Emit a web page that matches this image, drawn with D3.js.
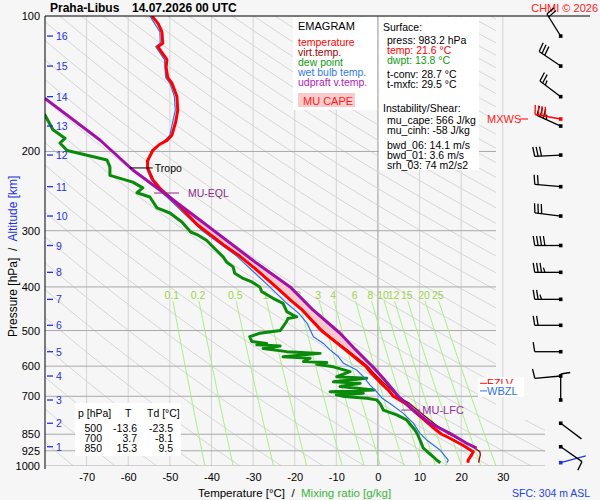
<!DOCTYPE html>
<html>
<head>
<meta charset="utf-8">
<script src="https://cdn.jsdelivr.net/npm/d3@7"></script>
<style>
  body { margin: 0; background: #f6f6f6; }
  svg { display: block; font-family: "Liberation Sans", Arial, sans-serif; }
</style>
</head>
<body>
<svg id="chart" width="600" height="500"></svg>
<script>
// axis ticks
const pTicks = [100, 200, 300, 400, 500, 600, 700, 850, 925, 1000]
const tTicks = [-70, -60, -50, -40, -30, -20, -10, 0, 10, 20, 30]
const altKm = [1, 2, 3, 4, 5, 6, 7, 8, 9, 10, 11, 12, 13, 14, 15, 16]
const altP = [906.1, 803.5, 713.4, 631.0, 557.2, 486.8, 426.2, 371.2, 323.6, 278.3, 239.5, 203.7, 175.6, 151.1, 129.2, 110.8]
const mixRatios = [0.1, 0.2, 0.5, 1, 2, 3, 4, 6, 8, 10, 12, 15, 20, 25]

// temperature + virtual temperature (hPa, °C)
const tempP = [983.2, 970, 945, 930, 898, 861, 850, 818, 764, 726, 700, 678, 650, 622, 600, 590, 552, 530, 500, 482, 450, 428, 400, 367, 340, 323, 300, 291, 265, 250, 242, 231, 218, 210, 199, 193, 189, 184, 172, 162, 151, 141, 137, 130, 125, 117, 115, 108.5, 104, 100]
const tempC = [21.6, 21.7, 22.5, 22.9, 20.3, 16.6, 15.3, 13.0, 9.3, 6.6, 3.7, 2.5, 0.4, -1.6, -3.0, -4.0, -7.8, -10.2, -13.6, -15.2, -18.2, -21.0, -24.5, -29.1, -33.5, -37.0, -41.5, -43.4, -47.6, -50.6, -52.3, -54.1, -55.3, -55.4, -54.1, -52.5, -50.7, -49.5, -48.6, -48.1, -48.3, -49.5, -50.5, -50.9, -50.7, -52.9, -51.7, -51.9, -52.8, -54.3]
const virtC = [24.2, 24.3, 24.6, 24.5, 22.2, 18.4, 17.1, 14.5, 10.5, 7.6, 4.6, 3.3, 1.1, -1.0, -2.5, -3.5, -7.4, -9.9, -13.4, -15.0, -18.1, -20.9, -24.4, -29.0, -33.4, -36.9, -41.4, -43.3, -47.5, -50.5, -52.3, -54.1, -55.3, -55.4, -54.1, -52.5, -50.7, -49.5, -48.6, -48.1, -48.3, -49.5, -50.5, -50.9, -50.7, -52.9, -51.7, -51.9, -52.8, -54.3]

// dew point
const dewP = [983.2, 970, 954, 913, 875, 850, 832, 790, 770, 751, 726, 713, 707, 701, 695, 689, 684, 678, 666, 655, 650, 638, 633, 617, 602, 594, 589, 586, 576, 572, 562, 557, 548, 541, 538, 534, 529, 516, 507, 500, 490, 478, 470, 466, 462, 454, 435, 424, 410, 400, 390, 383, 373, 361, 352, 343, 326, 315, 307, 302, 287, 274, 267, 252.5, 247, 241, 234, 226, 216.5, 209, 204, 199, 191.5, 187, 179, 166, 160]
const dewC = [15.0, 14.1, 13.3, 10.9, 10.1, 9.5, 8.9, 6.9, 4.5, 1.3, 0.5, -0.3, -2.7, -8.1, -10.0, -3.5, -11.5, -0.9, -9.1, -4.3, -10.7, -2.7, -9.9, -6.7, -10.7, -14.7, -12.3, -17.9, -16.3, -22.8, -13.9, -21.9, -27.6, -23.5, -29.1, -26.7, -30.3, -30.8, -28.4, -23.5, -22.8, -22.0, -21.6, -19.5, -20.4, -21.9, -22.8, -25.2, -27.9, -28.4, -30.3, -32.4, -34.4, -34.8, -36.4, -37.2, -39.6, -41.2, -43.2, -45.0, -47.1, -50.0, -53.1, -54.8, -57.9, -56.5, -58.9, -64.4, -64.4, -65.1, -69.9, -74.7, -76.4, -75.2, -78.1, -80.0, -82.0]

// wet bulb temperature
const wetP = [983.2, 970, 921, 875, 846, 803, 764, 726, 707, 684, 661, 633, 612, 591, 572, 552, 534, 516, 482, 458, 435, 400, 373, 340, 300, 265, 250, 231, 218, 199, 189, 184, 162, 151, 141, 137, 125, 117, 115, 108.5, 100]
const wetC = [16.6, 16.9, 14.9, 11.7, 10.1, 8.5, 6.1, 2.9, 1.0, -0.3, -1.9, -3.5, -5.1, -8.3, -9.5, -11.5, -13.1, -15.5, -17.0, -19.0, -21.9, -26.0, -29.5, -34.2, -42.2, -48.3, -51.2, -54.5, -55.6, -54.4, -51.2, -50.0, -48.7, -48.9, -50.0, -51.0, -51.3, -53.4, -52.3, -52.4, -54.8]

// MU parcel (updraft virtual temperature)
const parcelP = [913, 890, 846, 803, 751, 700, 650, 605, 550, 507, 450, 400, 354.5, 284, 247.4, 243.6, 219.9, 188.6, 152.4]
const parcelC = [23.7, 21.3, 17.3, 12.5, 8.5, 4.9, 2.0, -1.0, -5.5, -9.1, -15.6, -21.1, -29.1, -42.8, -51.4, -52.4, -58.9, -66.8, -80.0]
const lfcP = 751, elP = 247.4, tropoP = 217.6, fzlvP = 655, wbzlP = 681

// winds: surface then every km
const windP = [983.2].concat(altP)
const windDir = [75, 125, 127, 360, 265, 270, 270, 270, 270, 270, 277, 275, 267, 294, 307, 304, 328]
const windSpd = [2, 7, 2, 5, 5, 5, 10, 13, 18, 20, 15, 10, 15, 18, 13, 15, 10]
const mxwsP = 169.4, mxwsDir = 280, mxwsSpd = 20

// station table
const tableP = [500, 700, 850]
const tableT = ['-13.6', '3.7', '15.3']
const tableTd = ['-23.5', '-8.1', '9.5']

const svg = d3.select('#chart')
const xs = d3.scaleLinear().domain([-80, 40]).range([45, 544.4])
const ys = d3.scaleLog().domain([100, 1000]).range([16, 466])
const FONT = 10.5

const defs = svg.append('defs')
defs.append('clipPath').attr('id', 'plotClip')
  .append('rect').attr('x', 45).attr('y', 16).attr('width', 500).attr('height', 450)
defs.append('clipPath').attr('id', 'gridClip')
  .append('path').attr('d', 'M45,16H496V420H545V466H45Z')

const zip = (ps, ts) => ps.map((p, i) => [p, ts[i]])
const line = d3.line().x(d => xs(d[1])).y(d => ys(d[0]))

// isotherms
svg.append('g').selectAll('line').data(tTicks).join('line')
  .attr('x1', d => xs(d)).attr('x2', d => xs(d))
  .attr('y1', 16).attr('y2', 466)
  .attr('stroke', d => d === 0 ? '#9a9a9a' : '#d4d4d4')
  .attr('stroke-width', 1)

// dry adiabats
const grid = svg.append('g').attr('clip-path', 'url(#gridClip)')
const adP = d3.range(100, 1001, 10)
grid.selectAll('path.ad').data(d3.range(200, 640, 10)).join('path')
  .attr('class', 'ad')
  .attr('d', th => line(adP.map(p => [p, th * Math.pow(p / 1000, 0.286) - 273.15])))
  .attr('fill', 'none').attr('stroke', '#d2d2d2').attr('stroke-width', 0.9)

// isobars
grid.selectAll('line.iso').data(pTicks.filter(p => p > 100)).join('line')
  .attr('class', 'iso')
  .attr('x1', 45).attr('x2', d => d >= 850 ? 545 : 496)
  .attr('y1', d => ys(d)).attr('y2', d => ys(d))
  .attr('stroke', '#a9a9a9')

// mixing ratio lines
const mixT = (w, p) => {
  const e = (w / 1000) * p / (0.622 + w / 1000)
  const l = Math.log(e / 6.112)
  return 243.5 * l / (17.67 - l)
}
const mixP = d3.range(430, 1001, 10)
const mixG = svg.append('g').attr('clip-path', 'url(#plotClip)')
mixG.selectAll('path').data(mixRatios).join('path')
  .attr('d', w => line(mixP.map(p => [p, mixT(w, p)])))
  .attr('fill', 'none').attr('stroke', '#a8ef84').attr('stroke-width', 1)
svg.append('g').selectAll('text').data(mixRatios).join('text')
  .attr('x', w => xs(mixT(w, 430)) - 1)
  .attr('y', ys(430) - 2)
  .attr('text-anchor', 'middle')
  .attr('font-size', FONT)
  .attr('fill', '#9fd34a')
  .text(w => w)

// boxes
const box = (x, y, w, h, fill) => svg.append('rect').attr('x', x).attr('y', y)
  .attr('width', w).attr('height', h).attr('fill', fill || '#ffffff')
box(293, 17, 84, 93)
box(379, 17, 100, 153)
box(75, 403, 106, 53)

// CAPE area between parcel and environment
const capeUp = zip(parcelP, parcelC).filter(d => d[0] <= lfcP && d[0] >= elP)
const capeDown = zip(tempP, virtC).filter(d => d[0] < lfcP && d[0] > elP).reverse()
svg.append('path')
  .attr('d', line(capeUp.concat(capeDown)) + 'Z')
  .attr('fill', '#f7c8cf').attr('stroke', 'none')

// profiles
const prof = svg.append('g').attr('clip-path', 'url(#plotClip)')
const draw = (data, color, width) => prof.append('path').datum(data)
  .attr('d', line).attr('fill', 'none').attr('stroke', color)
  .attr('stroke-width', width).attr('stroke-linejoin', 'round')
draw(zip(dewP, dewC), '#0a8a0a', 3)
draw(zip(wetP, wetC), '#2f6fe8', 1.2)
draw(zip(tempP, virtC), '#8b0000', 1.3)
draw(zip(tempP, tempC), '#ff0000', 3)
draw(zip(parcelP, parcelC), '#a010a8', 3)

// annotations
const tropoT = tempC[tempP.indexOf(218)]
svg.append('line').attr('x1', xs(tropoT) - 18).attr('x2', xs(tropoT) + 5)
  .attr('y1', ys(tropoP)).attr('y2', ys(tropoP)).attr('stroke', '#000')
svg.append('text').attr('x', xs(tropoT) + 7).attr('y', ys(tropoP) + 4)
  .attr('font-size', FONT).text('Tropo')

const elT = parcelC[parcelP.indexOf(elP)]
svg.append('line').attr('x1', xs(elT) - 10).attr('x2', xs(elT) + 15)
  .attr('y1', ys(elP)).attr('y2', ys(elP)).attr('stroke', '#8a2a8a')
svg.append('text').attr('x', xs(elT) + 24).attr('y', ys(elP) + 4)
  .attr('font-size', FONT).attr('fill', '#8a2a8a').text('MU-EQL')

const lfcT = parcelC[parcelP.indexOf(lfcP)]
svg.append('line').attr('x1', xs(lfcT) - 12).attr('x2', xs(lfcT) + 7)
  .attr('y1', ys(lfcP)).attr('y2', ys(lfcP)).attr('stroke', '#9a2aa0')
svg.append('text').attr('x', xs(lfcT) + 9).attr('y', ys(lfcP) + 4)
  .attr('font-size', FONT + 0.5).attr('fill', '#9a2aa0').text('MU-LFC')

box(478, ys(fzlvP) - 6, 46, 12)
svg.append('line').attr('x1', 480).attr('x2', 487).attr('y1', ys(fzlvP)).attr('y2', ys(fzlvP)).attr('stroke', '#ff0000')
svg.append('text').attr('x', 487).attr('y', ys(fzlvP) + 4).attr('font-size', FONT + 0.5).attr('fill', '#ff0000').text('FZLV')
box(478, ys(wbzlP) - 7, 46, 13)
svg.append('line').attr('x1', 480).attr('x2', 487).attr('y1', ys(wbzlP)).attr('y2', ys(wbzlP)).attr('stroke', '#2f6fe8')
svg.append('text').attr('x', 487).attr('y', ys(wbzlP) + 4).attr('font-size', FONT + 0.5).attr('fill', '#2f6fe8').text('WBZL')

// axes
const yAxis = svg.append('g').attr('transform', 'translate(45,0)')
  .call(d3.axisLeft(ys).tickValues(pTicks).tickFormat(d => d).tickSize(0).tickPadding(5))
yAxis.select('.domain').remove()
yAxis.selectAll('text').attr('font-size', FONT + 0.5).attr('font-family', null).attr('fill', '#000')

const xAxis = svg.append('g').attr('transform', 'translate(0,466)')
  .call(d3.axisBottom(xs).tickValues(tTicks).tickFormat(d => String(d)).tickSize(0).tickPadding(7))
xAxis.select('.domain').remove()
xAxis.selectAll('text').attr('font-size', FONT + 0.5).attr('font-family', null).attr('fill', '#000')

svg.append('line').attr('x1', 45).attr('x2', 45).attr('y1', 16).attr('y2', 469).attr('stroke', '#000')
svg.append('line').attr('x1', 45).attr('x2', 590).attr('y1', 16).attr('y2', 16).attr('stroke', '#000')

// altitude ticks
const alt = svg.append('g')
alt.selectAll('line').data(altKm).join('line')
  .attr('x1', 47).attr('x2', 53)
  .attr('y1', (d, i) => ys(altP[i])).attr('y2', (d, i) => ys(altP[i]))
  .attr('stroke', '#2233dd').attr('stroke-width', 1.3)
alt.selectAll('text').data(altKm).join('text')
  .attr('x', 56).attr('y', (d, i) => ys(altP[i]) + 4)
  .attr('font-size', FONT).attr('fill', '#2233dd').text(d => d)

// axis titles
const yTitle = svg.append('text').attr('transform', 'translate(17,337) rotate(-90)')
  .attr('font-size', FONT + 1.5).attr('xml:space', 'preserve')
yTitle.append('tspan').attr('fill', '#000').text('Pressure [hPa]  /  ')
yTitle.append('tspan').attr('fill', '#2233dd').text('Altitude [km]')

const xTitle = svg.append('text').attr('x', 198).attr('y', 497).attr('font-size', FONT + 1).attr('xml:space', 'preserve')
xTitle.append('tspan').attr('fill', '#000').text('Temperature [°C]  /  ')
xTitle.append('tspan').attr('fill', '#3cb43c').text('Mixing ratio [g/kg]')

svg.append('text').attr('x', 512).attr('y', 497).attr('font-size', FONT).attr('fill', '#2244dd').text('SFC: 304 m ASL')
svg.append('text').attr('x', 598).attr('y', 12).attr('text-anchor', 'end').attr('font-size', FONT + 0.5).attr('fill', '#ff2020').text('CHMI © 2026')
svg.append('text').attr('x', 50).attr('y', 12).attr('font-size', 12).attr('font-weight', 'bold').text('Praha-Libus')
svg.append('text').attr('x', 132).attr('y', 12).attr('font-size', 12).attr('font-weight', 'bold').text('14.07.2026 00 UTC')

// legend
const leg = [
  ['temperature', '#ff0000'],
  ['virt.temp.', '#a00000'],
  ['dew point', '#109a10'],
  ['wet bulb temp.', '#3377ee'],
  ['udpraft v.temp.', '#b020c0']
]
svg.append('text').attr('x', 298).attr('y', 30).attr('font-size', FONT + 0.5).text('EMAGRAM')
svg.append('g').selectAll('text').data(leg).join('text')
  .attr('x', 298).attr('y', (d, i) => 46 + i * 10)
  .attr('font-size', FONT).attr('fill', d => d[1]).text(d => d[0])
box(298, 93, 57, 14, '#f8cccc')
svg.append('text').attr('x', 303).attr('y', 105).attr('font-size', FONT + 0.5).attr('fill', '#ff2020').text('MU CAPE')

// info box
const info = [
  ['Surface:', 383, 31, '#000'],
  ['press: 983.2 hPa', 387, 44, '#000'],
  ['temp: 21.6 °C', 387, 54, '#ff0000'],
  ['dwpt: 13.8 °C', 387, 64, '#109a10'],
  ['t-conv: 28.7 °C', 387, 78, '#000'],
  ['t-mxfc: 29.5 °C', 387, 88, '#000'],
  ['Instability/Shear:', 383, 112, '#000'],
  ['mu_cape: 566 J/kg', 387, 124, '#000'],
  ['mu_cinh: -58 J/kg', 387, 134, '#000'],
  ['bwd_06: 14.1 m/s', 387, 149, '#000'],
  ['bwd_01: 3.6 m/s', 387, 159, '#000'],
  ['srh_03: 74 m2/s2', 387, 169, '#000']
]
svg.append('g').selectAll('text').data(info).join('text')
  .attr('x', d => d[1]).attr('y', d => d[2]).attr('font-size', FONT)
  .attr('fill', d => d[3]).text(d => d[0])

// table
const tbl = svg.append('g').attr('font-size', FONT)
tbl.append('text').attr('x', 78).attr('y', 417).text('p [hPa]')
tbl.append('text').attr('x', 125).attr('y', 417).text('T')
tbl.append('text').attr('x', 147).attr('y', 417).text('Td [°C]')
tableP.forEach((p, i) => {
  const yy = 432 + i * 10
  tbl.append('text').attr('x', 102).attr('y', yy).attr('text-anchor', 'end').text(p)
  tbl.append('text').attr('x', 137).attr('y', yy).attr('text-anchor', 'end').text(tableT[i])
  tbl.append('text').attr('x', 173).attr('y', yy).attr('text-anchor', 'end').text(tableTd[i])
})

// wind barbs
const barbs = svg.append('g')
function drawBarb(px, py, dir, spd, color) {
  const a = dir * Math.PI / 180
  const ux = Math.sin(a), uy = -Math.cos(a)
  const nx = -uy, ny = ux
  const L = 26, B = 9.5, gap = 3.4
  const tx = px + ux * L, ty = py + uy * L
  barbs.append('line').attr('x1', px).attr('y1', py).attr('x2', tx).attr('y2', ty)
    .attr('stroke', color).attr('stroke-width', 1.3)
  const full = Math.floor(spd / 5)
  const half = spd - full * 5 >= 2.5 ? 1 : 0
  for (let k = 0; k < full + half; k++) {
    const len = k < full ? B : B / 2
    const bx = tx - ux * gap * k, by = ty - uy * gap * k
    barbs.append('line').attr('x1', bx).attr('y1', by)
      .attr('x2', bx + nx * len + ux * 1.5).attr('y2', by + ny * len + uy * 1.5)
      .attr('stroke', color).attr('stroke-width', 1.3)
  }
  barbs.append('rect').attr('x', px - 1.8).attr('y', py - 1.8).attr('width', 3.6).attr('height', 3.6).attr('fill', color)
}
windP.forEach((p, i) => drawBarb(560.7, ys(p), windDir[i], windSpd[i], i === 0 ? '#2233dd' : '#000'))
drawBarb(560.7, ys(mxwsP), mxwsDir, mxwsSpd, '#ff0000')
svg.append('text').attr('x', 487).attr('y', ys(mxwsP) + 4).attr('font-size', FONT + 0.5).attr('fill', '#ff2020').text('MXWS')
svg.append('line').attr('x1', 520).attr('x2', 528).attr('y1', ys(mxwsP)).attr('y2', ys(mxwsP)).attr('stroke', '#ff0000')
</script>
</body>
</html>
